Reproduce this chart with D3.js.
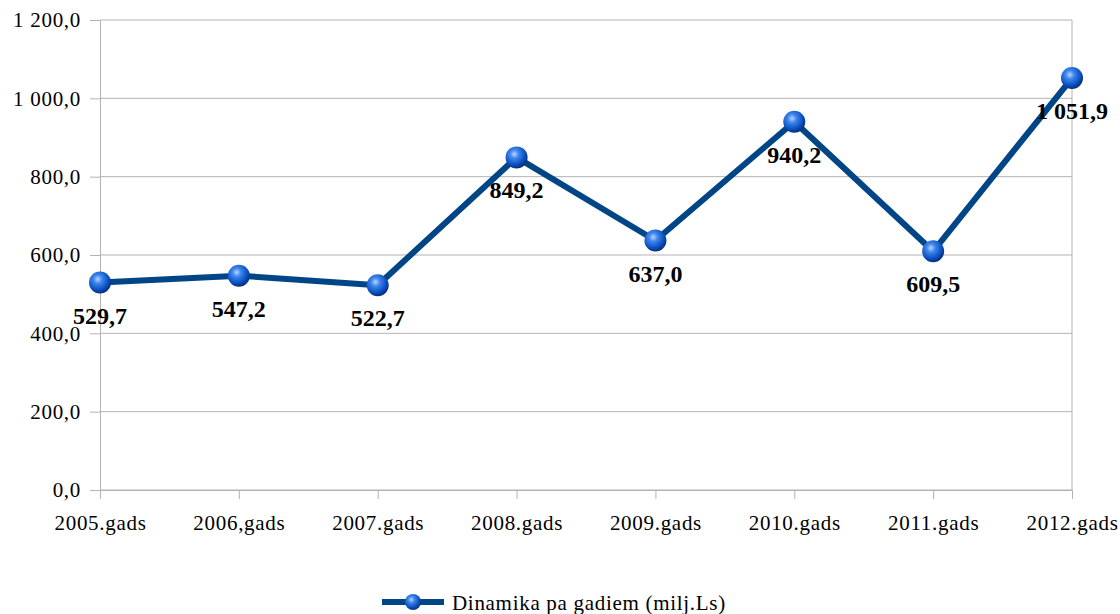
<!DOCTYPE html>
<html>
<head>
<meta charset="utf-8">
<script src="https://cdn.jsdelivr.net/npm/d3@7"></script>
<style>
  body { margin: 0; background: #fff; }
</style>
</head>
<body>
<svg id="chart" width="1120" height="614" font-family="Liberation Serif"></svg>
<script>
const categories = ["2005.gads", "2006,gads", "2007.gads", "2008.gads", "2009.gads", "2010.gads", "2011.gads", "2012.gads"];
const values = [529.7, 547.2, 522.7, 849.2, 637.0, 940.2, 609.5, 1051.9];
const yTicks = [0, 200, 400, 600, 800, 1000, 1200];
const seriesName = "Dinamika pa gadiem (milj.Ls)";

const FONT = "Liberation Serif";
const svg = d3.select("#chart");
const margin = { top: 20, right: 48, bottom: 124, left: 100 };
const width = +svg.attr("width") - margin.left - margin.right;
const height = +svg.attr("height") - margin.top - margin.bottom;

// number format like "1 051,9"
const fmt = v => {
  const s = v.toFixed(1).replace(".", ",");
  const [i, d] = s.split(",");
  return i.replace(/\B(?=(\d{3})+(?!\d))/g, " ") + "," + d;
};

const x = d3.scalePoint().domain(categories).range([0, width]);
const y = d3.scaleLinear().domain([0, 1200]).range([height, 0]);

// gradient for sphere markers
const defs = svg.append("defs");
const grad = defs.append("radialGradient")
  .attr("id", "ball").attr("cx", "40%").attr("cy", "35%").attr("r", "65%");
grad.append("stop").attr("offset", "0%").attr("stop-color", "#b9d6ff");
grad.append("stop").attr("offset", "30%").attr("stop-color", "#3f86ee");
grad.append("stop").attr("offset", "75%").attr("stop-color", "#0a4fc0");
grad.append("stop").attr("offset", "100%").attr("stop-color", "#06307a");

const g = svg.append("g").attr("transform", `translate(${margin.left},${margin.top})`);

// horizontal grid
g.selectAll(".grid").data(yTicks).enter().append("line")
  .attr("x1", 0).attr("x2", width)
  .attr("y1", d => y(d)).attr("y2", d => y(d))
  .attr("stroke", "#b3b3b3").attr("stroke-width", 1);

// right border
g.append("line").attr("x1", width).attr("x2", width)
  .attr("y1", 0).attr("y2", height)
  .attr("stroke", "#b3b3b3");

// y axis
const yAxis = g.append("g")
  .call(d3.axisLeft(y).tickValues(yTicks).tickFormat(fmt).tickSize(10).tickPadding(9))
  .attr("font-family", FONT).attr("font-size", 21);
yAxis.select(".domain").attr("stroke", "#b3b3b3");
yAxis.selectAll(".tick line").attr("stroke", "#b3b3b3");
yAxis.selectAll(".tick text").attr("fill", "#000")
  .attr("font-family", FONT).attr("font-size", 21).attr("letter-spacing", 0.7);

// x axis
const xAxis = g.append("g").attr("transform", `translate(0,${height})`)
  .call(d3.axisBottom(x).tickSize(9).tickPadding(16))
  .attr("font-family", FONT).attr("font-size", 21);
xAxis.select(".domain").attr("stroke", "#b3b3b3");
xAxis.selectAll(".tick line").attr("stroke", "#b3b3b3");
xAxis.selectAll(".tick text").attr("fill", "#000")
  .attr("font-family", FONT).attr("font-size", 21).attr("letter-spacing", 0.7);

const data = categories.map((c, i) => ({ cat: c, v: values[i] }));

// line
g.append("path").datum(data)
  .attr("fill", "none").attr("stroke", "#004586").attr("stroke-width", 6)
  .attr("stroke-linejoin", "round")
  .attr("d", d3.line().x(d => x(d.cat)).y(d => y(d.v)));

// markers
g.selectAll(".pt").data(data).enter().append("circle")
  .attr("cx", d => x(d.cat)).attr("cy", d => y(d.v)).attr("r", 11)
  .attr("fill", "url(#ball)");

// value labels
g.selectAll(".lbl").data(data).enter().append("text")
  .attr("x", d => x(d.cat)).attr("y", d => y(d.v) + 41)
  .attr("text-anchor", "middle")
  .attr("font-family", FONT).attr("font-size", 24).attr("font-weight", "bold")
  .text(d => fmt(d.v));

// legend
const lg = svg.append("g").attr("transform", "translate(382,602)");
lg.append("line").attr("x1", 0).attr("x2", 62).attr("y1", 0).attr("y2", 0)
  .attr("stroke", "#004586").attr("stroke-width", 6);
lg.append("circle").attr("cx", 31).attr("cy", 0).attr("r", 8).attr("fill", "url(#ball)");
lg.append("text").attr("x", 70).attr("y", 8)
  .attr("font-family", FONT).attr("font-size", 21).attr("letter-spacing", 0.7)
  .text(seriesName);
</script>
</body>
</html>
